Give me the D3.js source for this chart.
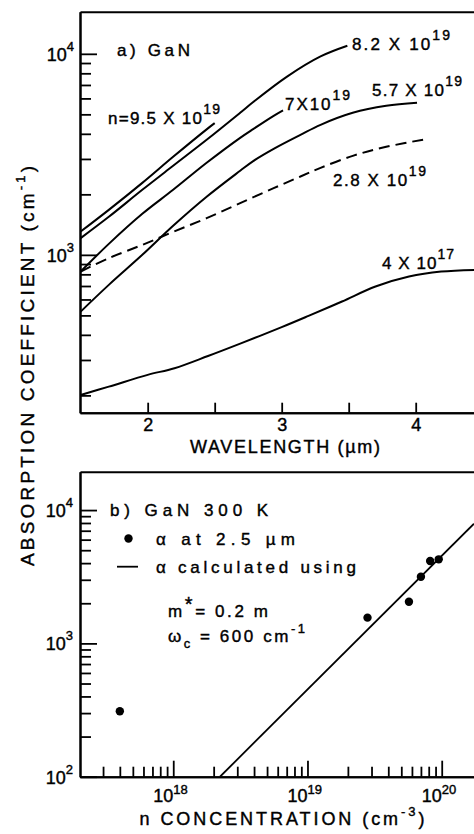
<!DOCTYPE html>
<html>
<head>
<meta charset="utf-8">
<script src="https://cdn.jsdelivr.net/npm/d3@7"></script>
<style>
  body { margin: 0; background: #fff; }
  text { font-family: "Liberation Sans", Arial, sans-serif; fill: #000; stroke: #000; stroke-width: 0.4px; }
</style>
</head>
<body>
<svg id="chart" width="474" height="834"></svg>
<script>
// ---------------------------------------------------------------------------
// a) GaN : coefficient d'absorption en fonction de la longueur d'onde (µm)
// ---------------------------------------------------------------------------
const lambda95 = [1.50, 1.71, 1.96, 2.19, 2.44, 2.50];
const alpha95  = [1306, 1674, 2281, 3074, 4210, 4520];

const lambda82 = [1.50, 1.71, 1.96, 2.19, 2.44, 2.69, 2.79, 3.04, 3.29, 3.49];
const alpha82  = [1211, 1546, 2106, 2773, 3734, 5087, 5770, 7700, 9700, 10960];

const lambda70 = [1.50, 1.71, 1.96, 2.19, 2.44, 2.69, 2.79, 2.94, 3.01];
const alpha70  = [826, 1134, 1600, 2106, 2870, 3821, 4236, 4916, 5236];

const lambda57 = [1.50, 1.71, 1.96, 2.19, 2.44, 2.69, 2.79, 2.94, 3.14, 3.29, 3.53, 3.78, 4.01];
const alpha57  = [522, 709, 1000, 1394, 1944, 2618, 2936, 3368, 3954, 4435, 5087, 5512, 5705];

const lambda28 = [1.50, 1.71, 1.96, 2.19, 2.44, 2.69, 2.94, 3.14, 3.29, 3.53, 3.78, 4.09];
const alpha28  = [826, 963, 1121, 1301, 1522, 1808, 2147, 2453, 2709, 3108, 3446, 3777];

const lambda04 = [1.50, 1.71, 2.00, 2.20, 2.45, 2.70, 3.00, 3.20, 3.45, 3.70, 3.95, 4.19, 4.44];
const alpha04  = [201, 221, 253, 273, 314, 364, 437, 497, 586, 696, 780, 826, 842];

const lambdaDomain = [1.495, 4.435];
const alphaDomainA = [164, 16200];
const lambdaTicks = [2, 3, 4];
const lambdaHalfTicks = [2.5, 3.5];

// ---------------------------------------------------------------------------
// b) GaN 300 K : alpha à 2.5 µm en fonction de la concentration n (cm-3)
// ---------------------------------------------------------------------------
const nMeasured     = [4e17, 2.8e19, 5.7e19, 7e19, 8.2e19, 9.5e19];
const alphaMeasured = [310, 1560, 2050, 3160, 4150, 4270];

const nCalc     = [2.23e18, 1.74e20];
const alphaCalc = [100, 7900];

const nDomain = [2.02e17, 1.74e20];
const alphaDomainB = [100, 19400];

const decadeTicksA = [1e3, 1e4];
const decadeTicksB = [1e2, 1e3, 1e4];
const nDecadeTicks = [1e18, 1e19, 1e20];

// ticks mineurs 2..9 x 10^k
const minor = (k0, k1) => d3.range(k0, k1).flatMap(k => d3.range(2, 10).map(m => m * Math.pow(10, k)));

const svg = d3.select("#chart");

// ---------------------------------------------------------------------------
// Outils
// ---------------------------------------------------------------------------
function styleAxis(g) {
    g.attr("font-size", null).attr("font-family", null);
    g.selectAll("path.domain").attr("stroke", "#000").attr("stroke-width", 2);
    g.selectAll(".tick line").attr("stroke", "#000").attr("stroke-width", 1.8);
    g.selectAll(".tick text").attr("font-size", 18).attr("fill", "#000");
}

// texte avec exposants / indices : parts = [[texte, "sup"|"sub"|undefined], ...]
function richText(parent, x, y, parts, opts = {}) {
    const t = parent.append("text")
        .attr("x", x).attr("y", y)
        .attr("font-size", opts.size || 17)
        .attr("text-anchor", opts.anchor || "start");
    if (opts.length) t.attr("textLength", opts.length).attr("lengthAdjust", "spacing");
    if (opts.transform) t.attr("transform", opts.transform);
    let shift = 0;
    parts.forEach(([s, kind]) => {
        const sp = t.append("tspan").text(s);
        let target = 0;
        if (kind === "sup") { target = opts.supDy || -10; sp.attr("font-size", opts.supSize || 14); }
        if (kind === "sub") { target = 6; sp.attr("font-size", 13); }
        if (target !== shift) sp.attr("dy", target - shift);
        shift = target;
    });
    return t;
}

function powLabelsY(g, scale, values, x) {
    values.forEach(v => {
        richText(g, x, scale(v) + 7, [["10"], [String(Math.round(Math.log10(v))), "sup"]],
            {size: 18, anchor: "end", supSize: 13, supDy: -10});
    });
}

// ---------------------------------------------------------------------------
// Panneau a)
// ---------------------------------------------------------------------------
const xA = d3.scaleLinear().domain(lambdaDomain).range([80, 474]);
const yA = d3.scaleLog().domain(alphaDomainA).range([412.7, 11.7]);

const gA = svg.append("g");

gA.append("g").attr("transform", "translate(80,0)")
    .call(d3.axisLeft(yA).tickValues(minor(2, 4)).tickSize(-11).tickSizeOuter(0).tickFormat(""))
    .call(styleAxis);
gA.append("g").attr("transform", "translate(80,0)")
    .call(d3.axisLeft(yA).tickValues(decadeTicksA).tickSize(-17).tickSizeOuter(0).tickFormat(""))
    .call(styleAxis);
gA.append("g").attr("transform", "translate(0,412.7)")
    .call(d3.axisBottom(xA).tickValues(lambdaHalfTicks).tickSize(-10).tickSizeOuter(0).tickFormat(""))
    .call(styleAxis);
gA.append("g").attr("transform", "translate(0,412.7)")
    .call(d3.axisBottom(xA).tickValues(lambdaTicks).tickSize(-10).tickSizeOuter(0)
        .tickPadding(6).tickFormat(d3.format("d")))
    .call(styleAxis);
gA.append("g").attr("transform", "translate(0,11.7)")
    .call(d3.axisTop(xA).tickValues([]).tickSizeOuter(0))
    .call(styleAxis);

powLabelsY(gA, yA, decadeTicksA, 74);

const curvesA = [
    {lambda: lambda95, alpha: alpha95, dashed: false},
    {lambda: lambda82, alpha: alpha82, dashed: false},
    {lambda: lambda70, alpha: alpha70, dashed: false},
    {lambda: lambda57, alpha: alpha57, dashed: false},
    {lambda: lambda28, alpha: alpha28, dashed: true},
    {lambda: lambda04, alpha: alpha04, dashed: false}
];

const lineA = d3.line()
    .x(d => xA(d[0]))
    .y(d => yA(d[1]))
    .curve(d3.curveCatmullRom.alpha(0.5));

gA.selectAll("path.curve")
    .data(curvesA)
    .join("path")
    .attr("class", "curve")
    .attr("d", c => lineA(d3.zip(c.lambda, c.alpha)))
    .attr("fill", "none")
    .attr("stroke", "#000")
    .attr("stroke-width", 2)
    .attr("stroke-dasharray", c => c.dashed ? "11,6" : null);

// étiquettes
richText(gA, 117, 56, [["a) GaN"]], {length: 73});
richText(gA, 108, 124, [["n=9.5 X 10"], ["19", "sup"]], {length: 112});
richText(gA, 352, 50, [["8.2 X 10"], ["19", "sup"]], {length: 98});
richText(gA, 285, 110, [["7X10"], ["19", "sup"]], {length: 65});
richText(gA, 372, 96, [["5.7 X 10"], ["19", "sup"]], {length: 90});
richText(gA, 333, 186, [["2.8 X 10"], ["19", "sup"]], {length: 93});
richText(gA, 382, 269, [["4 X 10"], ["17", "sup"]], {length: 72});

richText(gA, 285, 453, [["WAVELENGTH (µm)"]], {size: 18, anchor: "middle", length: 190});

// ---------------------------------------------------------------------------
// Panneau b)
// ---------------------------------------------------------------------------
const xB = d3.scaleLog().domain(nDomain).range([80, 474]);
const yB = d3.scaleLog().domain(alphaDomainB).range([776.7, 471.7]);

const gB = svg.append("g");

gB.append("defs").append("clipPath").attr("id", "clipB")
    .append("rect").attr("x", 80).attr("y", 471.7).attr("width", 394).attr("height", 305);

gB.append("g").attr("transform", "translate(80,0)")
    .call(d3.axisLeft(yB).tickValues(minor(2, 5).filter(v => v < alphaDomainB[1])).tickSize(-11).tickSizeOuter(0).tickFormat(""))
    .call(styleAxis);
gB.append("g").attr("transform", "translate(80,0)")
    .call(d3.axisLeft(yB).tickValues(decadeTicksB).tickSize(-17).tickSizeOuter(0).tickFormat(""))
    .call(styleAxis);
gB.append("g").attr("transform", "translate(0,776.7)")
    .call(d3.axisBottom(xB).tickValues(minor(17, 20).filter(v => v > nDomain[0] * 1.01)).tickSize(-10).tickSizeOuter(0).tickFormat(""))
    .call(styleAxis);
gB.append("g").attr("transform", "translate(0,776.7)")
    .call(d3.axisBottom(xB).tickValues(nDecadeTicks).tickSize(-16).tickSizeOuter(0).tickFormat(""))
    .call(styleAxis);
gB.append("g").attr("transform", "translate(0,471.7)")
    .call(d3.axisTop(xB).tickValues([]).tickSizeOuter(0))
    .call(styleAxis);

powLabelsY(gB, yB, decadeTicksB, 73);

nDecadeTicks.forEach(v => {
    richText(gB, xB(v) - 20, 802, [["10"], [String(Math.round(Math.log10(v))), "sup"]],
        {size: 18, supSize: 13, supDy: -8});
});

// droite calculée
gB.append("path")
    .attr("clip-path", "url(#clipB)")
    .attr("d", d3.line().x(d => xB(d[0])).y(d => yB(d[1]))(d3.zip(nCalc, alphaCalc)))
    .attr("fill", "none")
    .attr("stroke", "#000")
    .attr("stroke-width", 1.8);

// points mesurés
gB.selectAll("circle.pt")
    .data(d3.zip(nMeasured, alphaMeasured))
    .join("circle")
    .attr("class", "pt")
    .attr("cx", d => xB(d[0]))
    .attr("cy", d => yB(d[1]))
    .attr("r", 4.2)
    .attr("fill", "#000");

// légende
richText(gB, 110, 516, [["b) GaN 300 K"]], {length: 158});
gB.append("circle").attr("cx", 128.5).attr("cy", 538.5).attr("r", 4.2).attr("fill", "#000");
richText(gB, 156, 545, [["α at 2.5 µm"]], {length: 139});
gB.append("line").attr("x1", 117).attr("x2", 138).attr("y1", 566.7).attr("y2", 566.7)
    .attr("stroke", "#000").attr("stroke-width", 1.8);
richText(gB, 156, 573, [["α calculated using"]], {length: 200});
richText(gB, 168, 617, [["m"], ["*", "sup"], ["= 0.2 m"]], {length: 100, supSize: 20, supDy: -6});
richText(gB, 168, 642, [["ω"], ["c", "sub"], [" = 600 cm"], ["-1", "sup"]], {length: 137, supSize: 13, supDy: -9});

richText(gB, 282, 825, [["n CONCENTRATION (cm"], ["-3", "sup"], [")"]], {size: 18, anchor: "middle", length: 285, supSize: 13, supDy: -9});

// titre de l'axe y commun
richText(svg, 0, 0, [["ABSORPTION COEFFICIENT (cm"], ["-1", "sup"], [")"]],
    {size: 19, anchor: "middle", length: 400, supSize: 13, supDy: -9, transform: "translate(34,366) rotate(-90)"});
</script>
</body>
</html>
